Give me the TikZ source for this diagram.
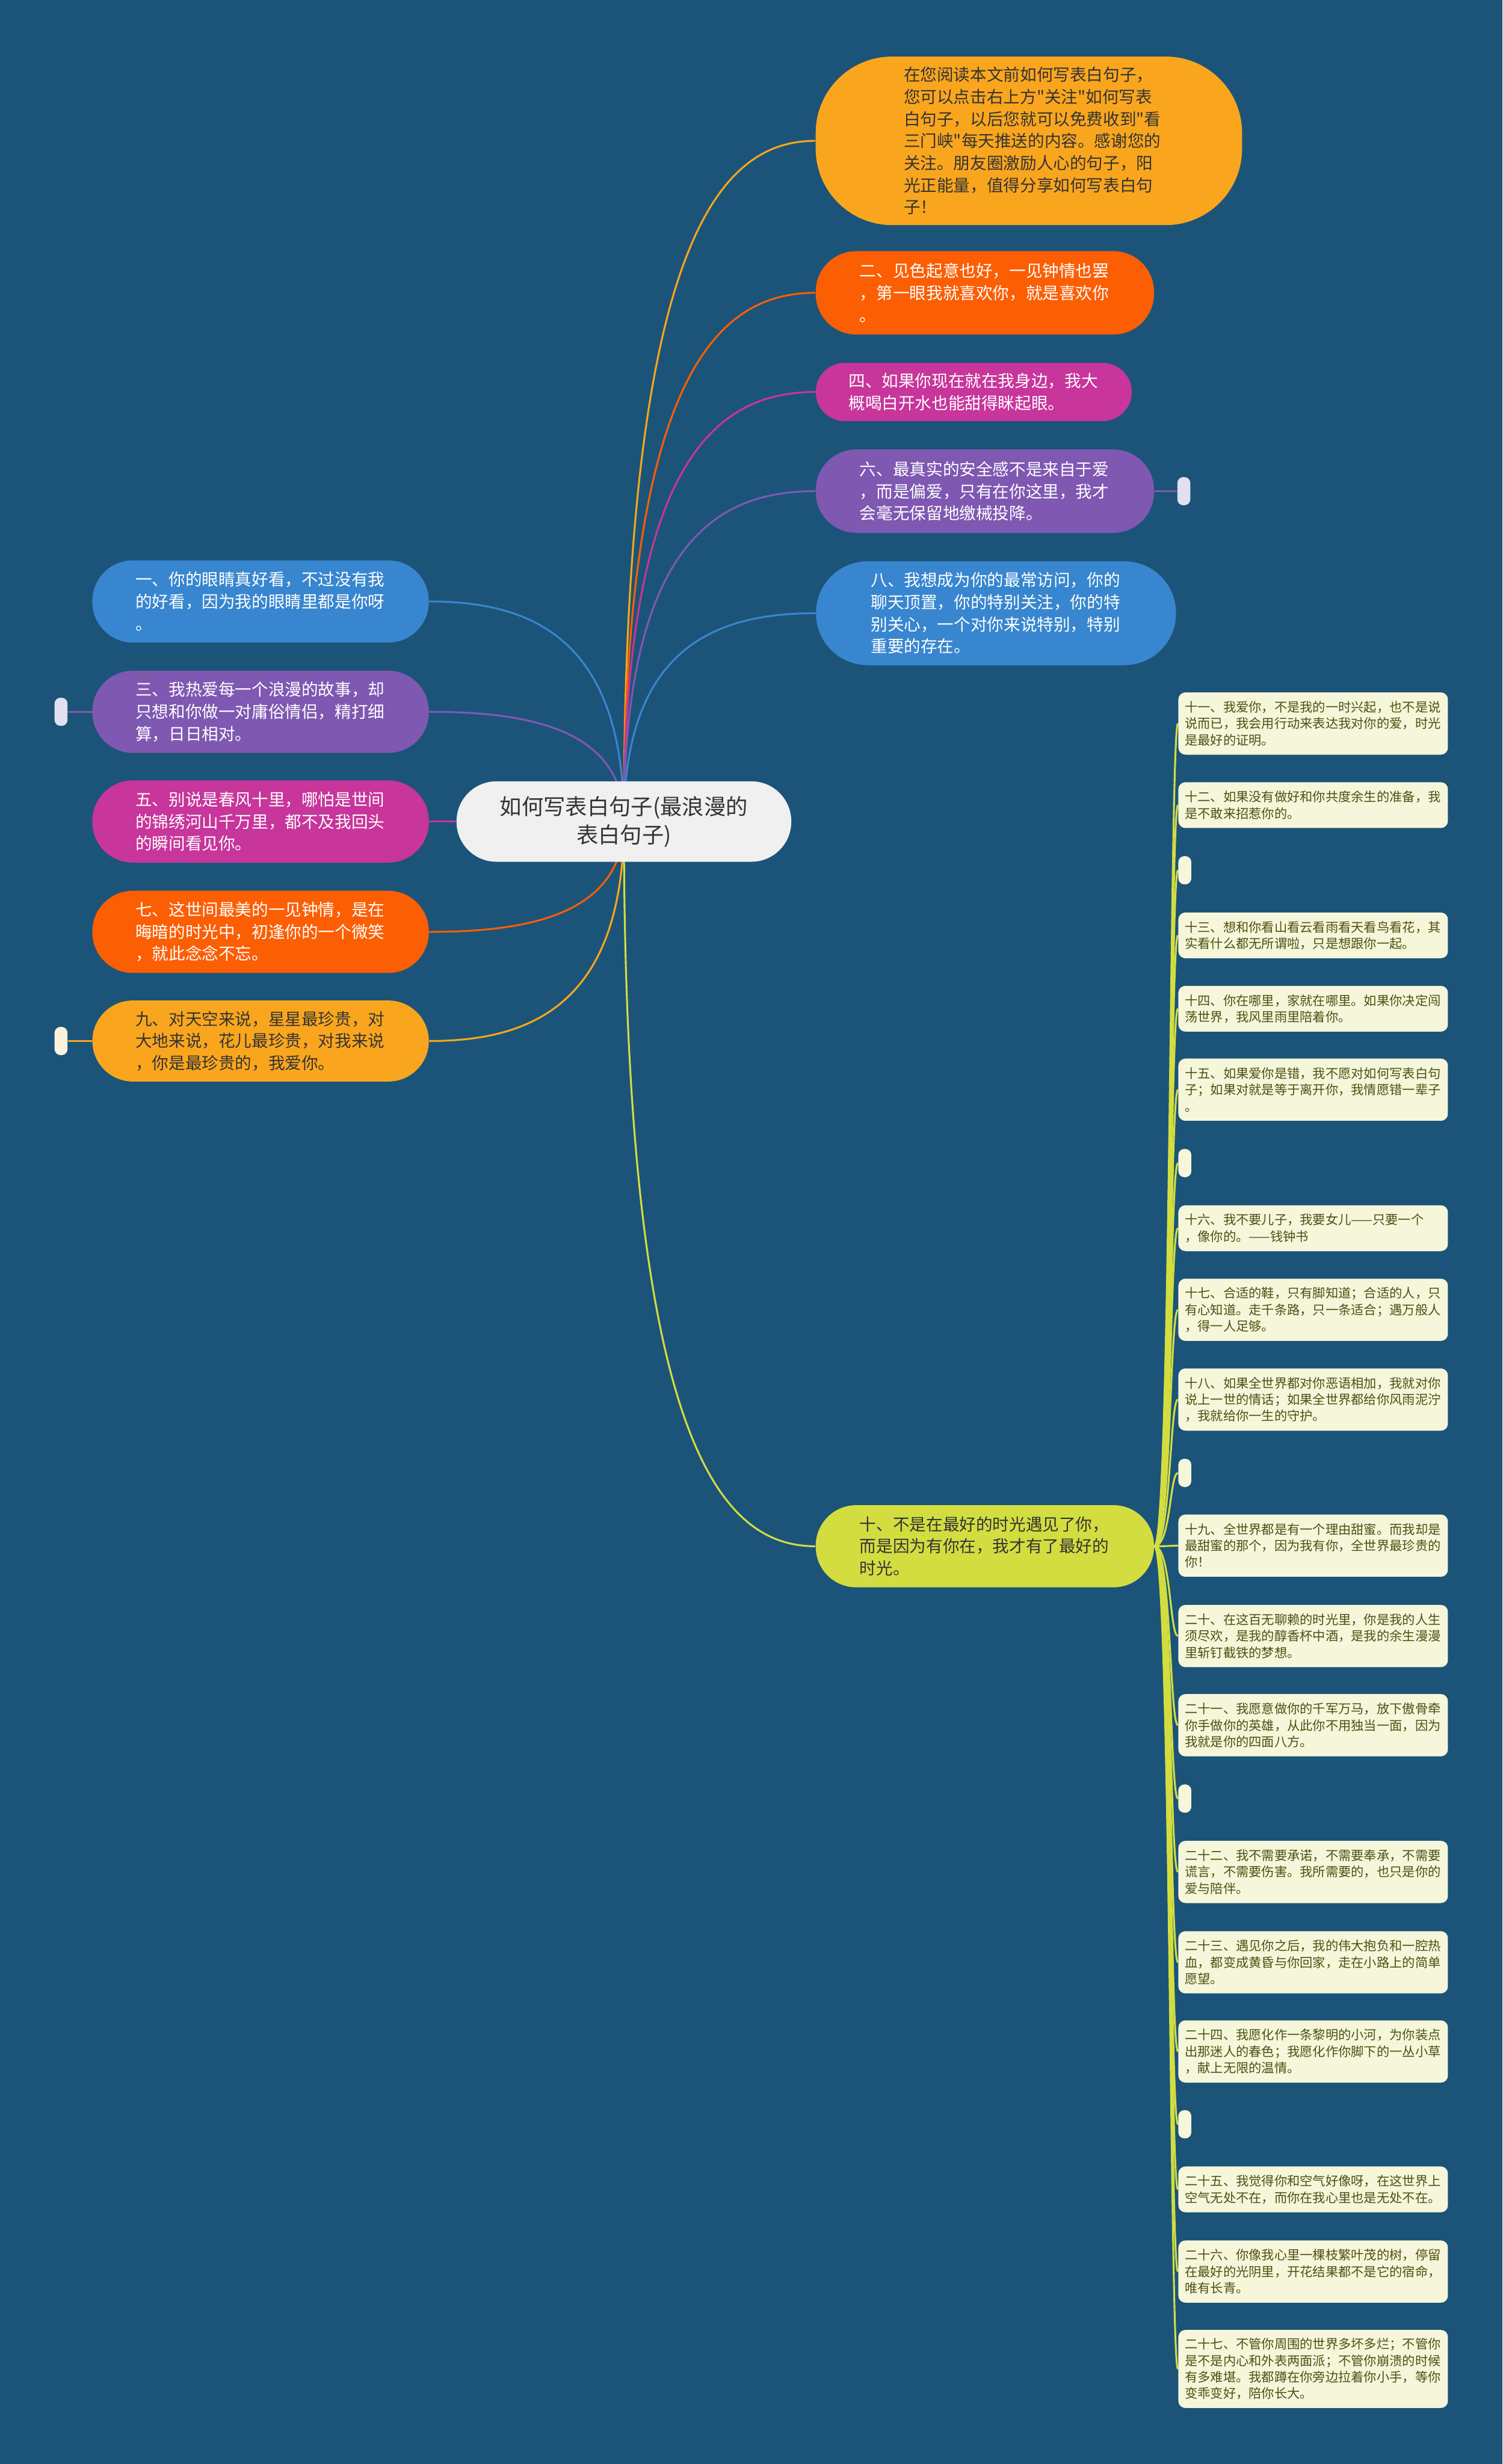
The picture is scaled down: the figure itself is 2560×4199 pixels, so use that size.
\documentclass[tikz,border=0pt]{standalone}
\usepackage{fontspec}
\setmainfont{Noto Sans CJK SC}[Ligatures=TeXOff]
\usetikzlibrary{backgrounds}

\definecolor{bgblue}{RGB}{27,84,120}
\definecolor{cAmber}{RGB}{249,166,30}
\definecolor{cRed}{RGB}{252,94,4}
\definecolor{cMagenta}{RGB}{200,53,155}
\definecolor{cPurple}{RGB}{127,88,178}
\definecolor{cBlue}{RGB}{56,134,207}
\definecolor{cLime}{RGB}{211,221,64}
\definecolor{cCream}{RGB}{246,246,218}
\definecolor{cOlive}{RGB}{78,80,20}
\definecolor{cRoot}{RGB}{240,240,240}
\definecolor{cInk}{RGB}{51,51,51}
\definecolor{cLilac}{RGB}{227,223,242}
\definecolor{cPeach}{RGB}{253,242,222}

\tikzset{
  root/.style={rectangle, rounded corners=0.68cm, fill=cRoot, text=cInk, minimum width=5.7cm, minimum height=1.37cm, align=center, inner sep=0pt, font=\fontsize{10.6}{13.7}\selectfont},
  pill/.style={rectangle, rounded corners=#1, inner sep=0pt, text width=4.26cm, align=left, text=white, font=\fontsize{8.05}{10.7}\selectfont},
  note/.style={rectangle, rounded corners=0.12cm, fill=cCream, text=cOlive, anchor=west, text width=4.37cm, inner xsep=0.11cm, inner ysep=0pt, minimum height=1.06cm, align=left, font=\fontsize{6.2}{7.95}\selectfont},
  stub/.style={rectangle, rounded corners=0.1cm, minimum width=0.22cm, minimum height=0.48cm, inner sep=0pt},
  link/.style={line width=0.9pt},
}

\begin{document}
\begin{tikzpicture}[x=0.01cm, y=-0.01cm]
\useasboundingbox (0,0) rectangle (2560,4199);

% centre
\node[root] (root) at (1063,1400) {如何写表白句子(最浪漫的\\表白句子)};

% right side
\node[pill=1.3cm, fill=cAmber, text=cInk, minimum width=7.26cm, minimum height=2.87cm] (n0) at (1753,240) {在您阅读本文前如何写表白句子，\\您可以点击右上方"关注"如何写表\\白句子，以后您就可以免费收到"看\\三门峡"每天推送的内容。感谢您的\\关注。朋友圈激励人心的句子，阳\\光正能量，值得分享如何写表白句\\子！};
\node[pill=0.69cm, fill=cRed, minimum width=5.76cm, minimum height=1.42cm] (n2) at (1678,499) {二、见色起意也好，一见钟情也罢\\，第一眼我就喜欢你，就是喜欢你\\。};
\node[pill=0.49cm, fill=cMagenta, minimum width=5.38cm, minimum height=0.99cm] (n4) at (1659,668) {四、如果你现在就在我身边，我大\\概喝白开水也能甜得眯起眼。};
\node[pill=0.69cm, fill=cPurple, minimum width=5.76cm, minimum height=1.42cm] (n6) at (1678,837) {六、最真实的安全感不是来自于爱\\，而是偏爱，只有在你这里，我才\\会毫无保留地缴械投降。};
\node[pill=0.88cm, fill=cBlue, minimum width=6.13cm, minimum height=1.77cm] (n8) at (1697,1045) {八、我想成为你的最常访问，你的\\聊天顶置，你的特别关注，你的特\\别关心，一个对你来说特别，特别\\重要的存在。};
\node[pill=0.69cm, fill=cLime, text=cInk, minimum width=5.76cm, minimum height=1.40cm] (n10) at (1678,2635) {十、不是在最好的时光遇见了你，\\而是因为有你在，我才有了最好的\\时光。};
\node[stub, fill=cLilac] (st6) at (2017,837) {};

% left side
\node[pill=0.69cm, fill=cBlue, minimum width=5.73cm, minimum height=1.40cm] (n1) at (444,1025) {一、你的眼睛真好看，不过没有我\\的好看，因为我的眼睛里都是你呀\\。};
\node[pill=0.69cm, fill=cPurple, minimum width=5.73cm, minimum height=1.40cm] (n3) at (444,1213) {三、我热爱每一个浪漫的故事，却\\只想和你做一对庸俗情侣，精打细\\算，日日相对。};
\node[pill=0.69cm, fill=cMagenta, minimum width=5.73cm, minimum height=1.40cm] (n5) at (444,1400) {五、别说是春风十里，哪怕是世间\\的锦绣河山千万里，都不及我回头\\的瞬间看见你。};
\node[pill=0.69cm, fill=cRed, minimum width=5.73cm, minimum height=1.40cm] (n7) at (444,1588) {七、这世间最美的一见钟情，是在\\晦暗的时光中，初逢你的一个微笑\\，就此念念不忘。};
\node[pill=0.69cm, fill=cAmber, text=cInk, minimum width=5.73cm, minimum height=1.38cm] (n9) at (444,1774) {九、对天空来说，星星最珍贵，对\\大地来说，花儿最珍贵，对我来说\\，你是最珍贵的，我爱你。};
\node[stub, fill=cLilac] (st3) at (104,1213) {};
\node[stub, fill=cPeach] (st9) at (104,1774) {};

% notes under 十
\node[note] (l11) at (2007,1233) {十一、我爱你，不是我的一时兴起，也不是说\\说而已，我会用行动来表达我对你的爱，时光\\是最好的证明。};
\node[note, minimum height=0.78cm] (l12) at (2007,1372) {十二、如果没有做好和你共度余生的准备，我\\是不敢来招惹你的。};
\node[stub, fill=cCream, anchor=west] (s1) at (2007,1483) {};
\node[note, minimum height=0.78cm] (l13) at (2007,1594) {十三、想和你看山看云看雨看天看鸟看花，其\\实看什么都无所谓啦，只是想跟你一起。};
\node[note, minimum height=0.78cm] (l14) at (2007,1719) {十四、你在哪里，家就在哪里。如果你决定闯\\荡世界，我风里雨里陪着你。};
\node[note] (l15) at (2007,1857) {十五、如果爱你是错，我不愿对如何写表白句\\子；如果对就是等于离开你，我情愿错一辈子\\。};
\node[stub, fill=cCream, anchor=west] (s2) at (2007,1982) {};
\node[note, minimum height=0.78cm] (l16) at (2007,2093) {十六、我不要儿子，我要女儿——只要一个\\，像你的。——钱钟书};
\node[note] (l17) at (2007,2232) {十七、合适的鞋，只有脚知道；合适的人，只\\有心知道。走千条路，只一条适合；遇万般人\\，得一人足够。};
\node[note] (l18) at (2007,2385) {十八、如果全世界都对你恶语相加，我就对你\\说上一世的情话；如果全世界都给你风雨泥泞\\，我就给你一生的守护。};
\node[stub, fill=cCream, anchor=west] (s3) at (2007,2510) {};
\node[note] (l19) at (2007,2634) {十九、全世界都是有一个理由甜蜜。而我却是\\最甜蜜的那个，因为我有你，全世界最珍贵的\\你！};
\node[note] (l20) at (2007,2788) {二十、在这百无聊赖的时光里，你是我的人生\\须尽欢，是我的醇香杯中酒，是我的余生漫漫\\里斩钉截铁的梦想。};
\node[note] (l21) at (2007,2940) {二十一、我愿意做你的千军万马，放下傲骨牵\\你手做你的英雄，从此你不用独当一面，因为\\我就是你的四面八方。};
\node[stub, fill=cCream, anchor=west] (s4) at (2007,3065) {};
\node[note] (l22) at (2007,3190) {二十二、我不需要承诺，不需要奉承，不需要\\谎言，不需要伤害。我所需要的，也只是你的\\爱与陪伴。};
\node[note] (l23) at (2007,3344) {二十三、遇见你之后，我的伟大抱负和一腔热\\血，都变成黄昏与你回家，走在小路上的简单\\愿望。};
\node[note] (l24) at (2007,3496) {二十四、我愿化作一条黎明的小河，为你装点\\出那迷人的春色；我愿化作你脚下的一丛小草\\，献上无限的温情。};
\node[stub, fill=cCream, anchor=west] (s5) at (2007,3620) {};
\node[note, minimum height=0.78cm] (l25) at (2007,3731) {二十五、我觉得你和空气好像呀，在这世界上\\空气无处不在，而你在我心里也是无处不在。};
\node[note] (l26) at (2007,3871) {二十六、你像我心里一棵枝繁叶茂的树，停留\\在最好的光阴里，开花结果都不是它的宿命，\\唯有长青。};
\node[note, minimum height=1.33cm] (l27) at (2007,4037) {二十七、不管你周围的世界多坏多烂；不管你\\是不是内心和外表两面派；不管你崩溃的时候\\有多难堪。我都蹲在你旁边拉着你小手，等你\\变乖变好，陪你长大。};

\begin{scope}[on background layer]
\fill[bgblue] (0,0) rectangle (2560,4199);
% centre to branches
\draw[link, cAmber] (root.center) .. controls +(0,-986) and +(-164,0) .. (n0.west);
\draw[link, cRed] (root.center) .. controls +(0,-766) and +(-164,0) .. (n2.west);
\draw[link, cMagenta] (root.center) .. controls +(0,-622) and +(-164,0) .. (n4.west);
\draw[link, cPurple] (root.center) .. controls +(0,-479) and +(-164,0) .. (n6.west);
\draw[link, cBlue] (root.center) .. controls +(0,-302) and +(-164,0) .. (n8.west);
\draw[link, cLime] (root.center) .. controls +(0,1050) and +(-164,0) .. (n10.west);
\draw[link, cBlue] (root.center) .. controls +(0,-319) and +(166,0) .. (n1.east);
\draw[link, cPurple] (root.center) .. controls +(0,-159) and +(166,0) .. (n3.east);
\draw[link, cMagenta] (root.center) -- (n5.east);
\draw[link, cRed] (root.center) .. controls +(0,160) and +(166,0) .. (n7.east);
\draw[link, cAmber] (root.center) .. controls +(0,318) and +(166,0) .. (n9.east);
% collapsed stubs
\draw[link, cPurple] (n6.east) -- (st6.west);
\draw[link, cPurple] (n3.west) -- (st3.east);
\draw[link, cAmber] (n9.west) -- (st9.east);
% 十 to notes
\draw[link, cLime] (n10.east) .. controls +(28,0) and +(-14,0) .. (l11.west);
\draw[link, cLime] (n10.east) .. controls +(28,0) and +(-14,0) .. (l12.west);
\draw[link, cLime] (n10.east) .. controls +(28,0) and +(-14,0) .. (s1.west);
\draw[link, cLime] (n10.east) .. controls +(28,0) and +(-14,0) .. (l13.west);
\draw[link, cLime] (n10.east) .. controls +(28,0) and +(-14,0) .. (l14.west);
\draw[link, cLime] (n10.east) .. controls +(28,0) and +(-14,0) .. (l15.west);
\draw[link, cLime] (n10.east) .. controls +(28,0) and +(-14,0) .. (s2.west);
\draw[link, cLime] (n10.east) .. controls +(28,0) and +(-14,0) .. (l16.west);
\draw[link, cLime] (n10.east) .. controls +(28,0) and +(-14,0) .. (l17.west);
\draw[link, cLime] (n10.east) .. controls +(28,0) and +(-14,0) .. (l18.west);
\draw[link, cLime] (n10.east) .. controls +(28,0) and +(-14,0) .. (s3.west);
\draw[link, cLime] (n10.east) .. controls +(28,0) and +(-14,0) .. (l19.west);
\draw[link, cLime] (n10.east) .. controls +(28,0) and +(-14,0) .. (l20.west);
\draw[link, cLime] (n10.east) .. controls +(28,0) and +(-14,0) .. (l21.west);
\draw[link, cLime] (n10.east) .. controls +(28,0) and +(-14,0) .. (s4.west);
\draw[link, cLime] (n10.east) .. controls +(28,0) and +(-14,0) .. (l22.west);
\draw[link, cLime] (n10.east) .. controls +(28,0) and +(-14,0) .. (l23.west);
\draw[link, cLime] (n10.east) .. controls +(28,0) and +(-14,0) .. (l24.west);
\draw[link, cLime] (n10.east) .. controls +(28,0) and +(-14,0) .. (s5.west);
\draw[link, cLime] (n10.east) .. controls +(28,0) and +(-14,0) .. (l25.west);
\draw[link, cLime] (n10.east) .. controls +(28,0) and +(-14,0) .. (l26.west);
\draw[link, cLime] (n10.east) .. controls +(28,0) and +(-14,0) .. (l27.west);
\end{scope}
\end{tikzpicture}
\end{document}
